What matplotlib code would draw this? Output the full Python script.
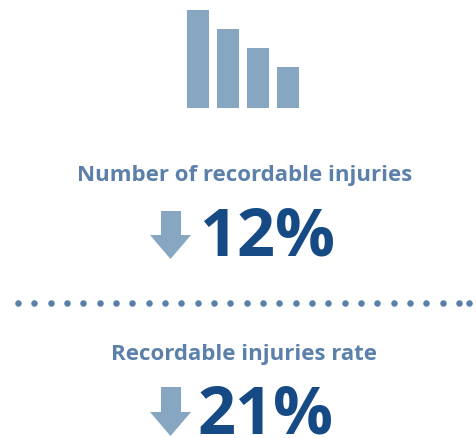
import matplotlib
matplotlib.use("Agg")
import matplotlib.pyplot as plt
from matplotlib.patches import Polygon

plt.rcParams['font.family'] = ['Open Sans', 'DejaVu Sans']

# Data
bar_values = [98, 79, 60, 41]
metric_labels = ["Number of recordable injuries", "Recordable injuries rate"]
metric_values = ["12%", "21%"]
n_dots = 28

BAR_C = "#87a6c1"
LABEL_C = "#5b80aa"
NUM_C = "#154a85"
DOT_C = "#5a80aa"

W, H = 477, 438
fig = plt.figure(figsize=(W / 100, H / 100), dpi=100)
ax = fig.add_axes([0, 0, 1, 1])
ax.set_xlim(0, W)
ax.set_ylim(H, 0)
ax.axis('off')

# Bars (baseline at y=108)
base = 108
xs = [198 + 30 * i for i in range(len(bar_values))]
ax.bar(xs, [-v for v in bar_values], bottom=base, width=22, color=BAR_C)

# Labels
ax.text(245, 181, metric_labels[0], ha='center', va='baseline', fontsize=16,
        fontweight='bold', color=LABEL_C)
ax.text(244.5, 360, metric_labels[1], ha='center', va='baseline', fontsize=16,
        fontweight='bold', color=LABEL_C)

# Big numbers
ax.text(267, 255, metric_values[0], ha='center', va='baseline', fontsize=48,
        fontweight='bold', color=NUM_C)
ax.text(266, 433, metric_values[1], ha='center', va='baseline', fontsize=48,
        fontweight='bold', color=NUM_C)

# Arrows
def down_arrow(top, headstart, bottom):
    pts = [(161, top), (181, top), (181, headstart), (191, headstart),
           (170.5, bottom), (150, headstart), (161, headstart)]
    ax.add_patch(Polygon(pts, closed=True, color=BAR_C, lw=0))

down_arrow(211, 235, 259)
down_arrow(387, 412, 436)

# Dotted separator
dot_x = [18 + 16.33 * i for i in range(n_dots)] + [469]
ax.scatter(dot_x, [303] * len(dot_x), s=22, color=DOT_C, lw=0)

fig.savefig("out.png", dpi=100)
